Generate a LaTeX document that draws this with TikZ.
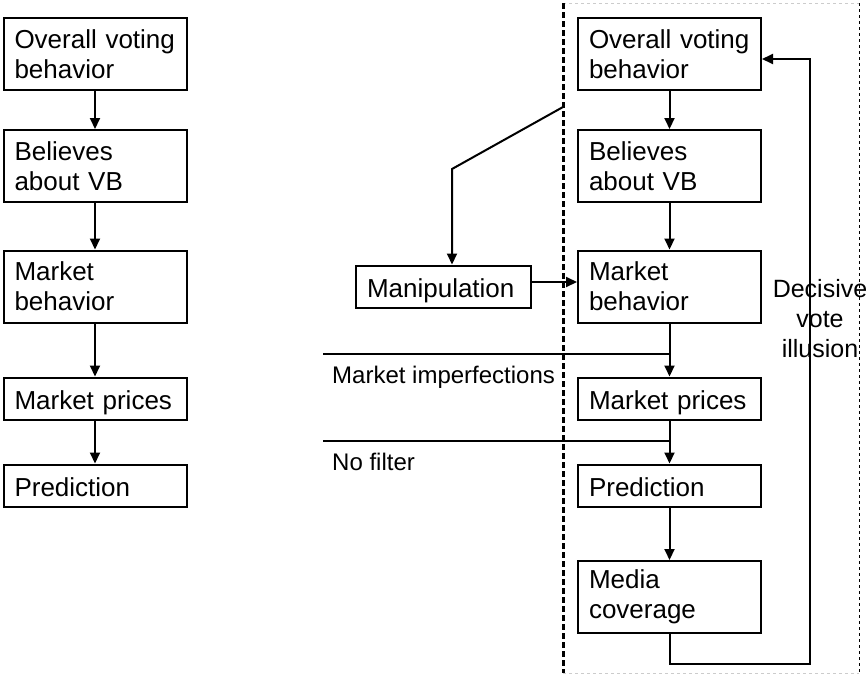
\documentclass[tikz,border=0pt]{standalone}
\usepackage{fontspec}
\setmainfont{Liberation Sans}
\usetikzlibrary{arrows.meta}

\begin{document}
\begin{tikzpicture}[x=1pt, y=-1pt,
  box/.style={draw, line width=2pt, text width=161pt, inner xsep=11pt, align=left, font=\fontsize{26}{30}\selectfont},
  tall/.style={minimum height=72pt},
  flat/.style={minimum height=42pt, text height=25pt, text depth=4pt},
  conn/.style={line width=2pt},
  arr/.style={conn, -{Triangle[length=11pt,width=10pt]}},
  lbl/.style={font=\fontsize{24}{30}\selectfont, inner sep=0pt}]
\useasboundingbox (0,0) rectangle (866,675);

% frame of the right part
\draw[gray!40, dashed, line width=1pt] (563,3) -- (859,3);
\draw[gray!40, dashed, line width=1pt] (563,673) -- (859,673);
\draw[dashed, line width=1pt] (859,3) -- (859,673);
\draw[line width=3pt, dash pattern=on 6pt off 3pt] (563,3) -- (563,673);

% left chain
\node[box, tall] (ov1) at (95,54) {Overall voting\\behavior};
\node[box, tall] (bel1) at (95,166) {Believes\\about VB};
\node[box, tall] (mb1) at (95,286.5) {Market\\behavior};
\node[box, flat] (mp1) at (95,398.5) {Market prices};
\node[box, flat] (pr1) at (95,485.5) {Prediction};
\draw[arr] (ov1) -- (bel1);
\draw[arr] (bel1) -- (mb1);
\draw[arr] (mb1) -- (mp1);
\draw[arr] (mp1) -- (pr1);

% right chain
\node[box, tall] (ov2) at (669.5,54) {Overall voting\\behavior};
\node[box, tall] (bel2) at (669.5,166) {Believes\\about VB};
\node[box, tall] (mb2) at (669.5,286.5) {Market\\behavior};
\node[box, flat] (mp2) at (669.5,398.5) {Market prices};
\node[box, flat] (pr2) at (669.5,485.5) {Prediction};
\node[box, tall] (mc2) at (669.5,597) {Media\\coverage};
\node[box, flat, text width=153pt] (manip) at (443.5,286.5) {Manipulation};
\draw[arr] (ov2) -- (bel2);
\draw[arr] (bel2) -- (mb2);
\draw[arr] (mb2) -- (mp2);
\draw[arr] (mp2) -- (pr2);
\draw[arr] (pr2) -- (mc2);
\draw[arr] ([yshift=4.5pt]manip.east) -- ([yshift=4.5pt]manip.east -| mb2.west);

\coordinate (tap) at (563,107);
\coordinate (knee) at (452,169);
\draw[arr] (tap) -- (knee) -- (knee |- manip.north);

\coordinate (mi) at (323,354);
\coordinate (nf) at (323,441);
\draw[conn] (mi) -- (mi -| mp2.north);
\draw[conn] (nf) -- (nf -| pr2.north);
\node[lbl, anchor=base west] (milbl) at (332,383) {Market imperfections};
\node[lbl, anchor=base west] (nflbl) at (332,470) {No filter};

% feedback loop
\coordinate (loop) at (810,664);
\draw[arr] (mc2.south) |- (loop) |- ([yshift=-5pt]ov2.east);
\node[lbl, align=center, font=\fontsize{25}{30}\selectfont] (dvi) at (820,319) {Decisive\\vote\\illusion};
\end{tikzpicture}
\end{document}
